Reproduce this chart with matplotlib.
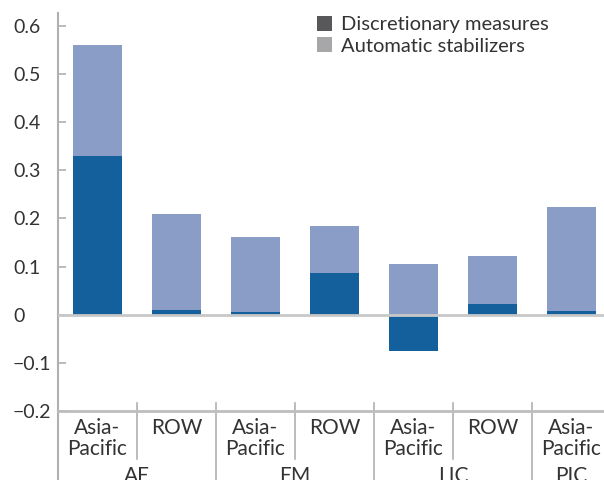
import matplotlib
matplotlib.use("Agg")
import matplotlib.pyplot as plt
from matplotlib.patches import Patch
import matplotlib.transforms as mtransforms

plt.rcParams['font.family'] = ['Lato', 'DejaVu Sans']

categories = ["Asia-\nPacific", "ROW", "Asia-\nPacific", "ROW", "Asia-\nPacific", "ROW", "Asia-\nPacific"]
groups = ["AE", "EM", "LIC", "PIC"]
group_sizes = [2, 2, 2, 1]
discretionary = [0.33, 0.010, 0.006, 0.086, -0.075, 0.022, 0.008]
automatic = [0.23, 0.199, 0.156, 0.099, 0.106, 0.100, 0.216]
yticks = [-0.2, -0.1, 0, 0.1, 0.2, 0.3, 0.4, 0.5, 0.6]
ytick_labels = ["\u22120.2", "\u22120.1", "0", "0.1", "0.2", "0.3", "0.4", "0.5", "0.6"]

dark = "#13609d"
light = "#8a9dc7"
text_col = "#333333"
axis_col = "#bdbdbd"

W, H = 604, 480
fig = plt.figure(figsize=(W / 100, H / 100), dpi=100)
ax_l, ax_b, ax_t, ax_r = 58, 411, 13, 611
ax = fig.add_axes([ax_l / W, (H - ax_b) / H, (ax_r - ax_l) / W, (ax_b - ax_t) / H])
ax_h = ax_b - ax_t

x = list(range(len(categories)))
width = 0.61
bottoms = [d if d > 0 else 0 for d in discretionary]
ax.bar(x, discretionary, width=width, color=dark, zorder=2)
ax.bar(x, automatic, width=width, bottom=bottoms, color=light, zorder=2)

ax.axhline(0, color="#c8c8c8", lw=2, zorder=3)

ax.set_xlim(-0.5, len(categories) - 0.5)
ax.set_ylim(-0.2, 0.627)

for s in ["top", "right"]:
    ax.spines[s].set_visible(False)
ax.spines["left"].set_color("#b0b0b0")
ax.spines["left"].set_linewidth(1.5)
ax.spines["bottom"].set_color(axis_col)
ax.spines["bottom"].set_linewidth(2)

ax.set_yticks(yticks)
ax.set_yticklabels(ytick_labels)
ax.tick_params(axis="y", direction="in", length=6, width=1.2, color="#b0b0b0",
               pad=45 * 0.72, labelsize=14, labelcolor=text_col)
for lab in ax.get_yticklabels():
    lab.set_horizontalalignment("left")

ax.set_xticks([])

ax.plot([0, 0], [0, -(H - ax_b) / ax_h], transform=ax.transAxes, color="#b0b0b0",
        lw=1.5, clip_on=False)

trans = mtransforms.blended_transform_factory(ax.transData, ax.transAxes)
boundaries = []
pos = 0
for gs in group_sizes:
    pos += gs
    boundaries.append(pos - 0.5)
for i in range(len(categories) - 1):
    xb = i + 0.5
    if xb in boundaries:
        y1 = -(H - ax_b) / ax_h
    else:
        y1 = -(459 - ax_b) / ax_h
    ax.plot([xb, xb], [8 / ax_h, y1], transform=trans, color="#b0b0b0", lw=1.2,
            clip_on=False)

for i, c in enumerate(categories):
    ax.text(i, -(418 - ax_b) / ax_h, c, transform=trans, ha="center", va="top",
            fontsize=15, color=text_col, linespacing=1.05)

start = 0
for g, gs in zip(groups, group_sizes):
    center = start + (gs - 1) / 2
    ax.text(center, -(466 - ax_b) / ax_h, g, transform=trans, ha="center", va="top",
            fontsize=15, color=text_col)
    start += gs

handles = [Patch(facecolor="#58585a", label="Discretionary measures"),
           Patch(facecolor="#a7a7a9", label="Automatic stabilizers")]
fig.legend(handles=handles, loc="upper left", bbox_to_anchor=(313 / W, 1 - 12 / H),
           frameon=False, fontsize=14.5, handlelength=0.75, handleheight=0.75,
           handletextpad=0.45, labelspacing=0.2, labelcolor=text_col, borderaxespad=0,
           borderpad=0.2)

fig.savefig("out.png", dpi=100)
